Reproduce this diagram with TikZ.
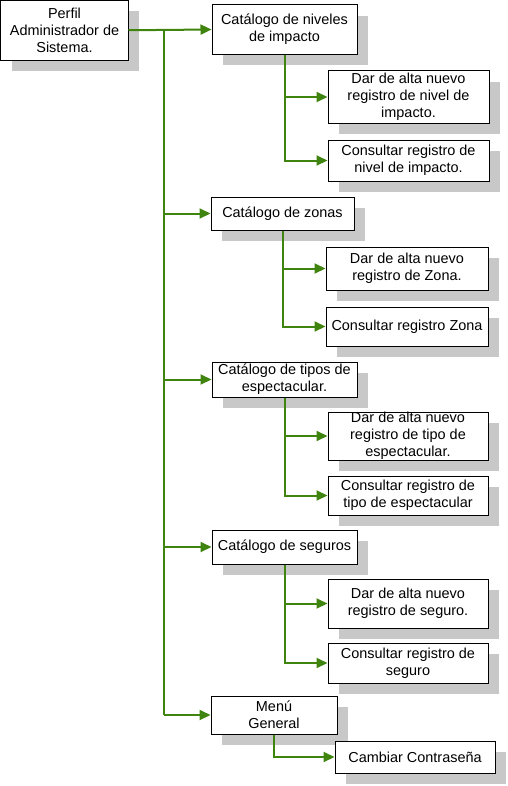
\documentclass[tikz,border=0pt]{standalone}
\usepackage{fontspec}
\setmainfont{Liberation Sans}
\usetikzlibrary{arrows.meta,shadows}
\definecolor{shd}{RGB}{200,200,200}
\definecolor{grn}{RGB}{64,132,16}
\begin{document}
\begin{tikzpicture}[x=1bp,y=-1bp,
  box/.style={draw=black, line width=1bp, fill=white, align=center, inner sep=0pt,
    font=\fontsize{14.5}{17}\selectfont,
    drop shadow={shadow xshift=11bp, shadow yshift=-11bp, fill=shd, opacity=1}},
  conn/.style={draw=grn, line width=2bp},
  arr/.style={conn, -{Triangle[length=11bp,width=10bp]}}]
\useasboundingbox (0,0) rectangle (508,786);
\node[box, minimum width=127bp, minimum height=59.5bp] (root) at (64.5,30.25) {Perfil\\Administrador de\\Sistema.};
\node[box, minimum width=145bp, minimum height=49bp] (b1) at (284.5,29.5) {Catálogo de niveles\\de impacto};
\node[box, minimum width=161bp, minimum height=52bp] (b1a) at (408.5,97) {Dar de alta nuevo\\registro de nivel de\\impacto.};
\node[box, minimum width=161bp, minimum height=41bp] (b1b) at (408.5,160.5) {Consultar registro de\\nivel de impacto.};
\node[box, minimum width=143bp, minimum height=33bp] (b2) at (282.5,213.5) {Catálogo de zonas};
\node[box, minimum width=162bp, minimum height=43bp] (b2a) at (407,268.5) {Dar de alta nuevo\\registro de Zona.};
\node[box, minimum width=162bp, minimum height=39bp] (b2b) at (407,326.5) {Consultar registro Zona};
\node[box, minimum width=145bp, minimum height=35bp] (b3) at (284.5,379.5) {Catálogo de tipos de\\espectacular.};
\node[box, minimum width=160bp, minimum height=48bp] (b3a) at (408,436) {Dar de alta nuevo\\registro de tipo de\\espectacular.};
\node[box, minimum width=160bp, minimum height=39bp] (b3b) at (408,495.5) {Consultar registro de\\tipo de espectacular};
\node[box, minimum width=145bp, minimum height=34bp] (b4) at (284.5,547) {Catálogo de seguros};
\node[box, minimum width=160bp, minimum height=49bp] (b4a) at (408,603.5) {Dar de alta nuevo\\registro de seguro.};
\node[box, minimum width=160bp, minimum height=40bp] (b4b) at (408,663) {Consultar registro de\\seguro};
\node[box, minimum width=126bp, minimum height=38bp] (b5) at (274,715) {Menú\\General};
\node[box, minimum width=160bp, minimum height=32bp] (b5a) at (415,757) {Cambiar Contraseña};
\coordinate (t) at (164,0);
% trunk
\draw[arr] (root.east) -- (b1.west);
\draw[conn] (t |- root.east) -- (t |- b5.west);
\draw[arr] (t |- b2.west) -- (b2.west);
\draw[arr] (t |- b3.west) -- (b3.west);
\draw[arr] (t |- b4.west) -- (b4.west);
\draw[arr] (t |- b5.west) -- (b5.west);
% branches
\draw[arr] (b1.south) |- (b1a.west);
\draw[arr] (b1.south) |- (b1b.west);
\draw[arr] (b2.south) |- (b2a.west);
\draw[arr] (b2.south) |- (b2b.west);
\draw[arr] (b3.south) |- (b3a.west);
\draw[arr] (b3.south) |- (b3b.west);
\draw[arr] (b4.south) |- (b4a.west);
\draw[arr] (b4.south) |- (b4b.west);
\draw[arr] (b5.south) |- (b5a.west);
\end{tikzpicture}
\end{document}
